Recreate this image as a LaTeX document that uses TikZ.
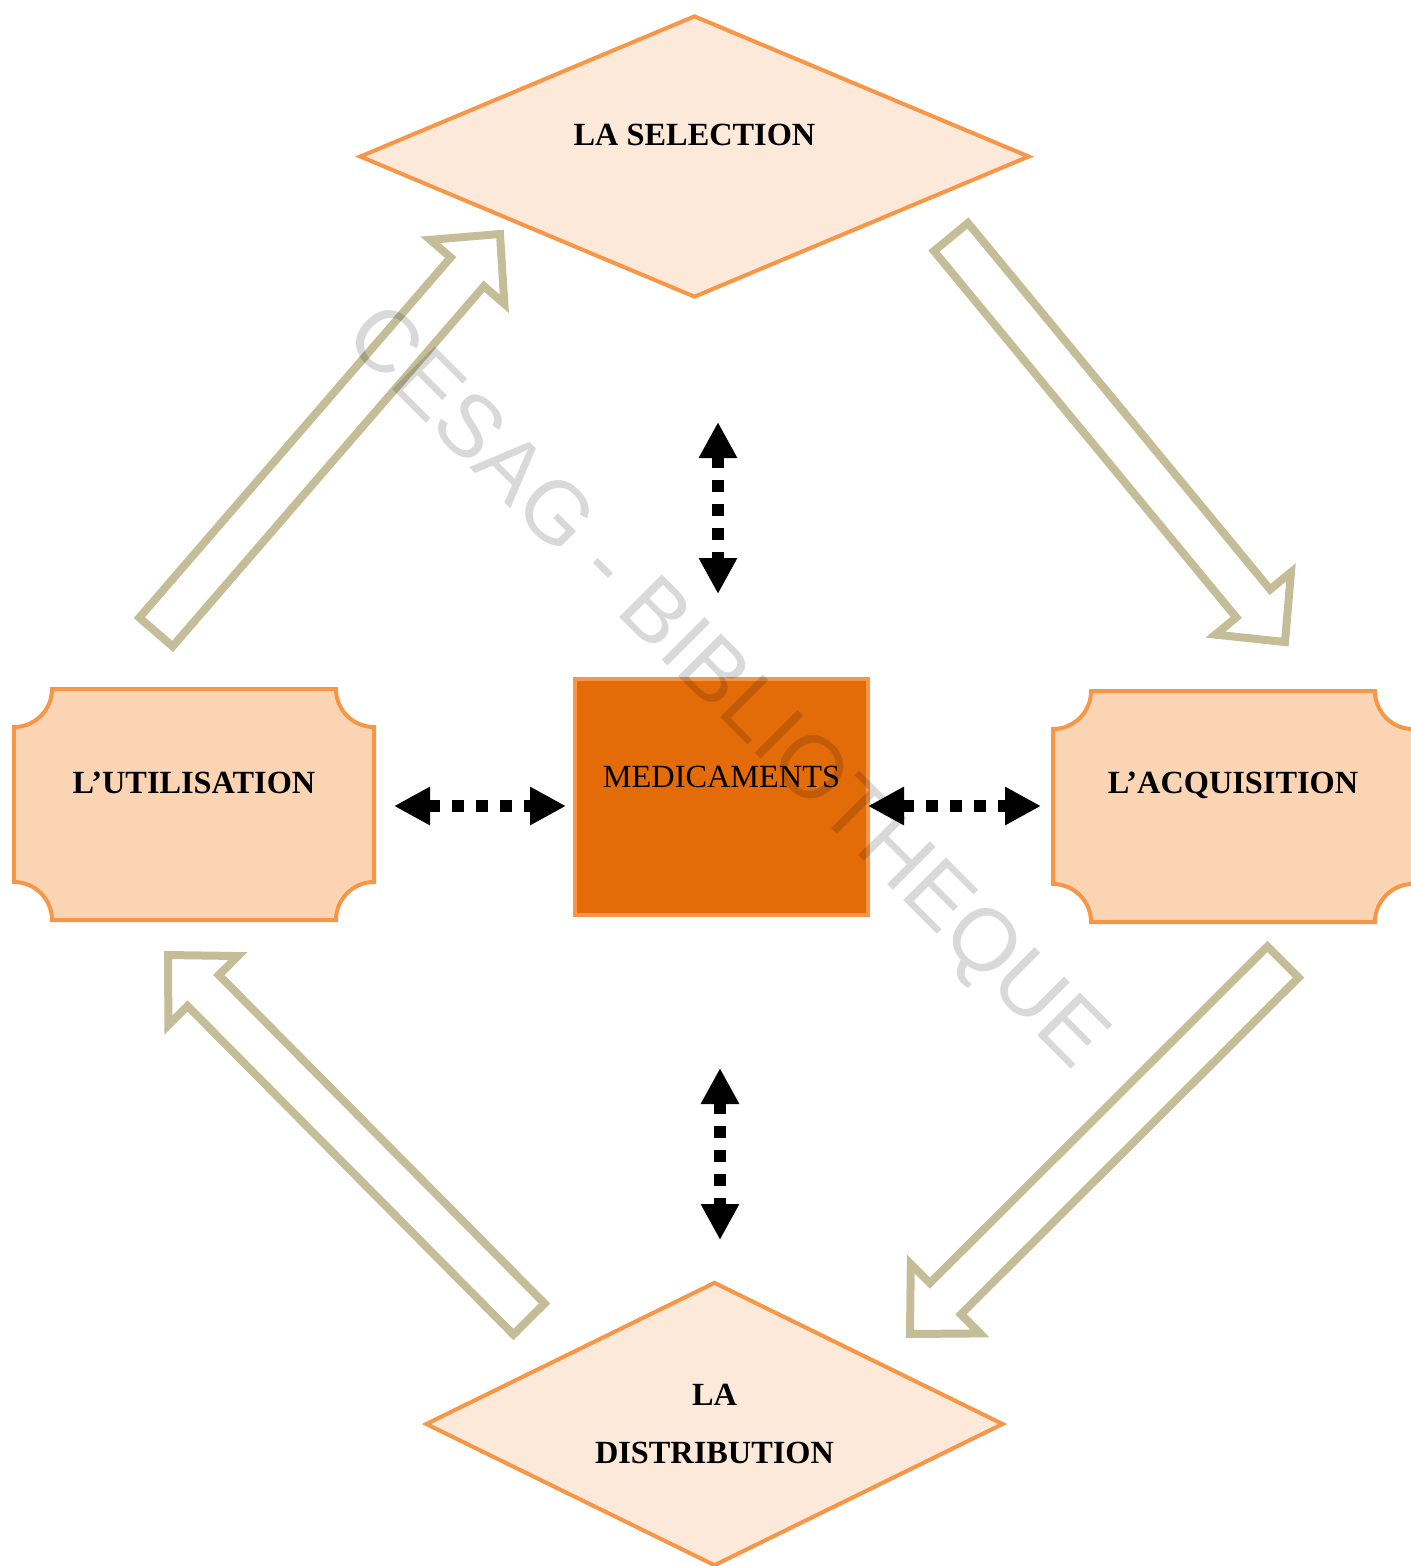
\documentclass[tikz,border=0pt]{standalone}
\usepackage{fontspec}
\setmainfont{Liberation Serif}
\newfontfamily\wmfont{Liberation Sans}
\usepackage{xcolor}
\usepackage{tikz}
\usetikzlibrary{shapes.geometric,arrows.meta,calc}

\definecolor{stagefill}{HTML}{FDE9D9}
\definecolor{stageline}{HTML}{F79646}
\definecolor{plaquefill}{HTML}{FBD4B4}
\definecolor{medfill}{HTML}{E36C09}
\definecolor{arrowtan}{HTML}{C4BD97}

% hollow block arrow from tail (#1) to tip (#2)
\newcommand{\hollowarrow}[2]{%
  \coordinate (ha-base) at ($(#2)!0.50cm!(#1)$);
  \draw[hollow] ($(#1)!0.22cm!90:(#2)$) -- ($(ha-base)!0.22cm!90:(#2)$)
    -- ($(ha-base)!0.49cm!90:(#2)$) -- (#2) -- ($(ha-base)!0.49cm!-90:(#2)$)
    -- ($(ha-base)!0.22cm!-90:(#2)$) -- ($(#1)!0.22cm!-90:(#2)$) -- cycle;}

% box with concave corners round node #1
\newcommand{\plaqueoutline}[1]{%
  \draw[plaque] ([xshift=3.8mm]#1.north west) -- ([xshift=-3.8mm]#1.north east)
    arc[start angle=180, end angle=270, radius=3.8mm] -- ([yshift=3.8mm]#1.south east)
    arc[start angle=90, end angle=180, radius=3.8mm] -- ([xshift=3.8mm]#1.south west)
    arc[start angle=0, end angle=90, radius=3.8mm] -- ([yshift=-3.8mm]#1.north west)
    arc[start angle=270, end angle=360, radius=3.8mm] -- cycle;}

\begin{document}
\begin{tikzpicture}[every node/.style={font=\fontsize{9.2}{11}\selectfont\bfseries},
    stage/.style={shape=diamond, aspect=2.2, draw=stageline, line width=0.04cm, fill=stagefill, inner sep=0pt},
    plaquebox/.style={minimum width=3.60cm, minimum height=2.31cm, inner sep=0pt, outer sep=0pt},
    plaque/.style={draw=stageline, line width=0.04cm, fill=plaquefill},
    hollow/.style={draw=arrowtan, line width=0.08cm},
    link/.style={line width=0.12cm, dash pattern=on 0.12cm off 0.12cm,
        {Triangle[width=3.6mm,length=3.6mm]}-{Triangle[width=3.6mm,length=3.6mm]}}]
    \useasboundingbox (0,0) rectangle (14.11,-15.66);

    % Cycle arrows
    \coordinate (a1t) at (1.56,-6.32);  \coordinate (a1h) at (5.00,-2.34);
    \coordinate (a2t) at (9.51,-2.37);  \coordinate (a2h) at (12.85,-6.42);
    \coordinate (a3t) at (12.83,-9.62); \coordinate (a3h) at (9.10,-13.34);
    \coordinate (a4t) at (5.29,-13.19); \coordinate (a4h) at (1.68,-9.55);
    \hollowarrow{a1t}{a1h}
    \hollowarrow{a2t}{a2h}
    \hollowarrow{a3t}{a3h}
    \hollowarrow{a4t}{a4h}

    % Stages
    \node[stage, minimum width=6.70cm, minimum height=2.82cm] (sel) at (6.945,-1.565) {};
    \node (sel-text) at ([yshift=2.2mm]sel.center) {LA SELECTION};

    \node[stage, minimum width=5.78cm, minimum height=2.84cm, align=center,
        font=\fontsize{9.2}{16.5}\selectfont\bfseries] (dist) at (7.145,-14.24) {LA\\DISTRIBUTION};

    \node[plaquebox] (util) at (1.94,-8.045) {};
    \plaqueoutline{util}
    \node (util-text) at ([yshift=2.15mm]util.center) {L’UTILISATION};

    \node[plaquebox] (acq) at (12.33,-8.065) {};
    \plaqueoutline{acq}
    \node (acq-text) at ([yshift=2.15mm]acq.center) {L’ACQUISITION};

    % Centre
    \node[draw=stageline, line width=0.04cm, fill=medfill, minimum width=2.93cm,
        minimum height=2.36cm, inner sep=0pt] (med) at (7.215,-7.97) {};
    \node[font=\fontsize{9.2}{11}\selectfont] (med-text) at ([yshift=2mm]med.center) {MEDICAMENTS};

    % Links to the centre
    \coordinate (sel-a) at (7.18,-4.22);   \coordinate (sel-b) at (7.18,-5.94);
    \coordinate (dist-a) at (7.20,-10.68); \coordinate (dist-b) at (7.20,-12.40);
    \coordinate (util-a) at (3.94,-8.06);  \coordinate (util-b) at (5.66,-8.06);
    \coordinate (acq-a) at (8.68,-8.06);   \coordinate (acq-b) at (10.41,-8.06);
    \draw[link] (sel-a) -- (sel-b);
    \draw[link] (dist-a) -- (dist-b);
    \draw[link] (util-a) -- (util-b);
    \draw[link] (acq-a) -- (acq-b);

    % Watermark
    \node[font=\wmfont\fontsize{25}{30}\selectfont, text=black, text opacity=0.15, rotate=-45]
        (wm) at (7.24,-6.90) {CESAG - BIBLIOTHEQUE};
\end{tikzpicture}
\end{document}
